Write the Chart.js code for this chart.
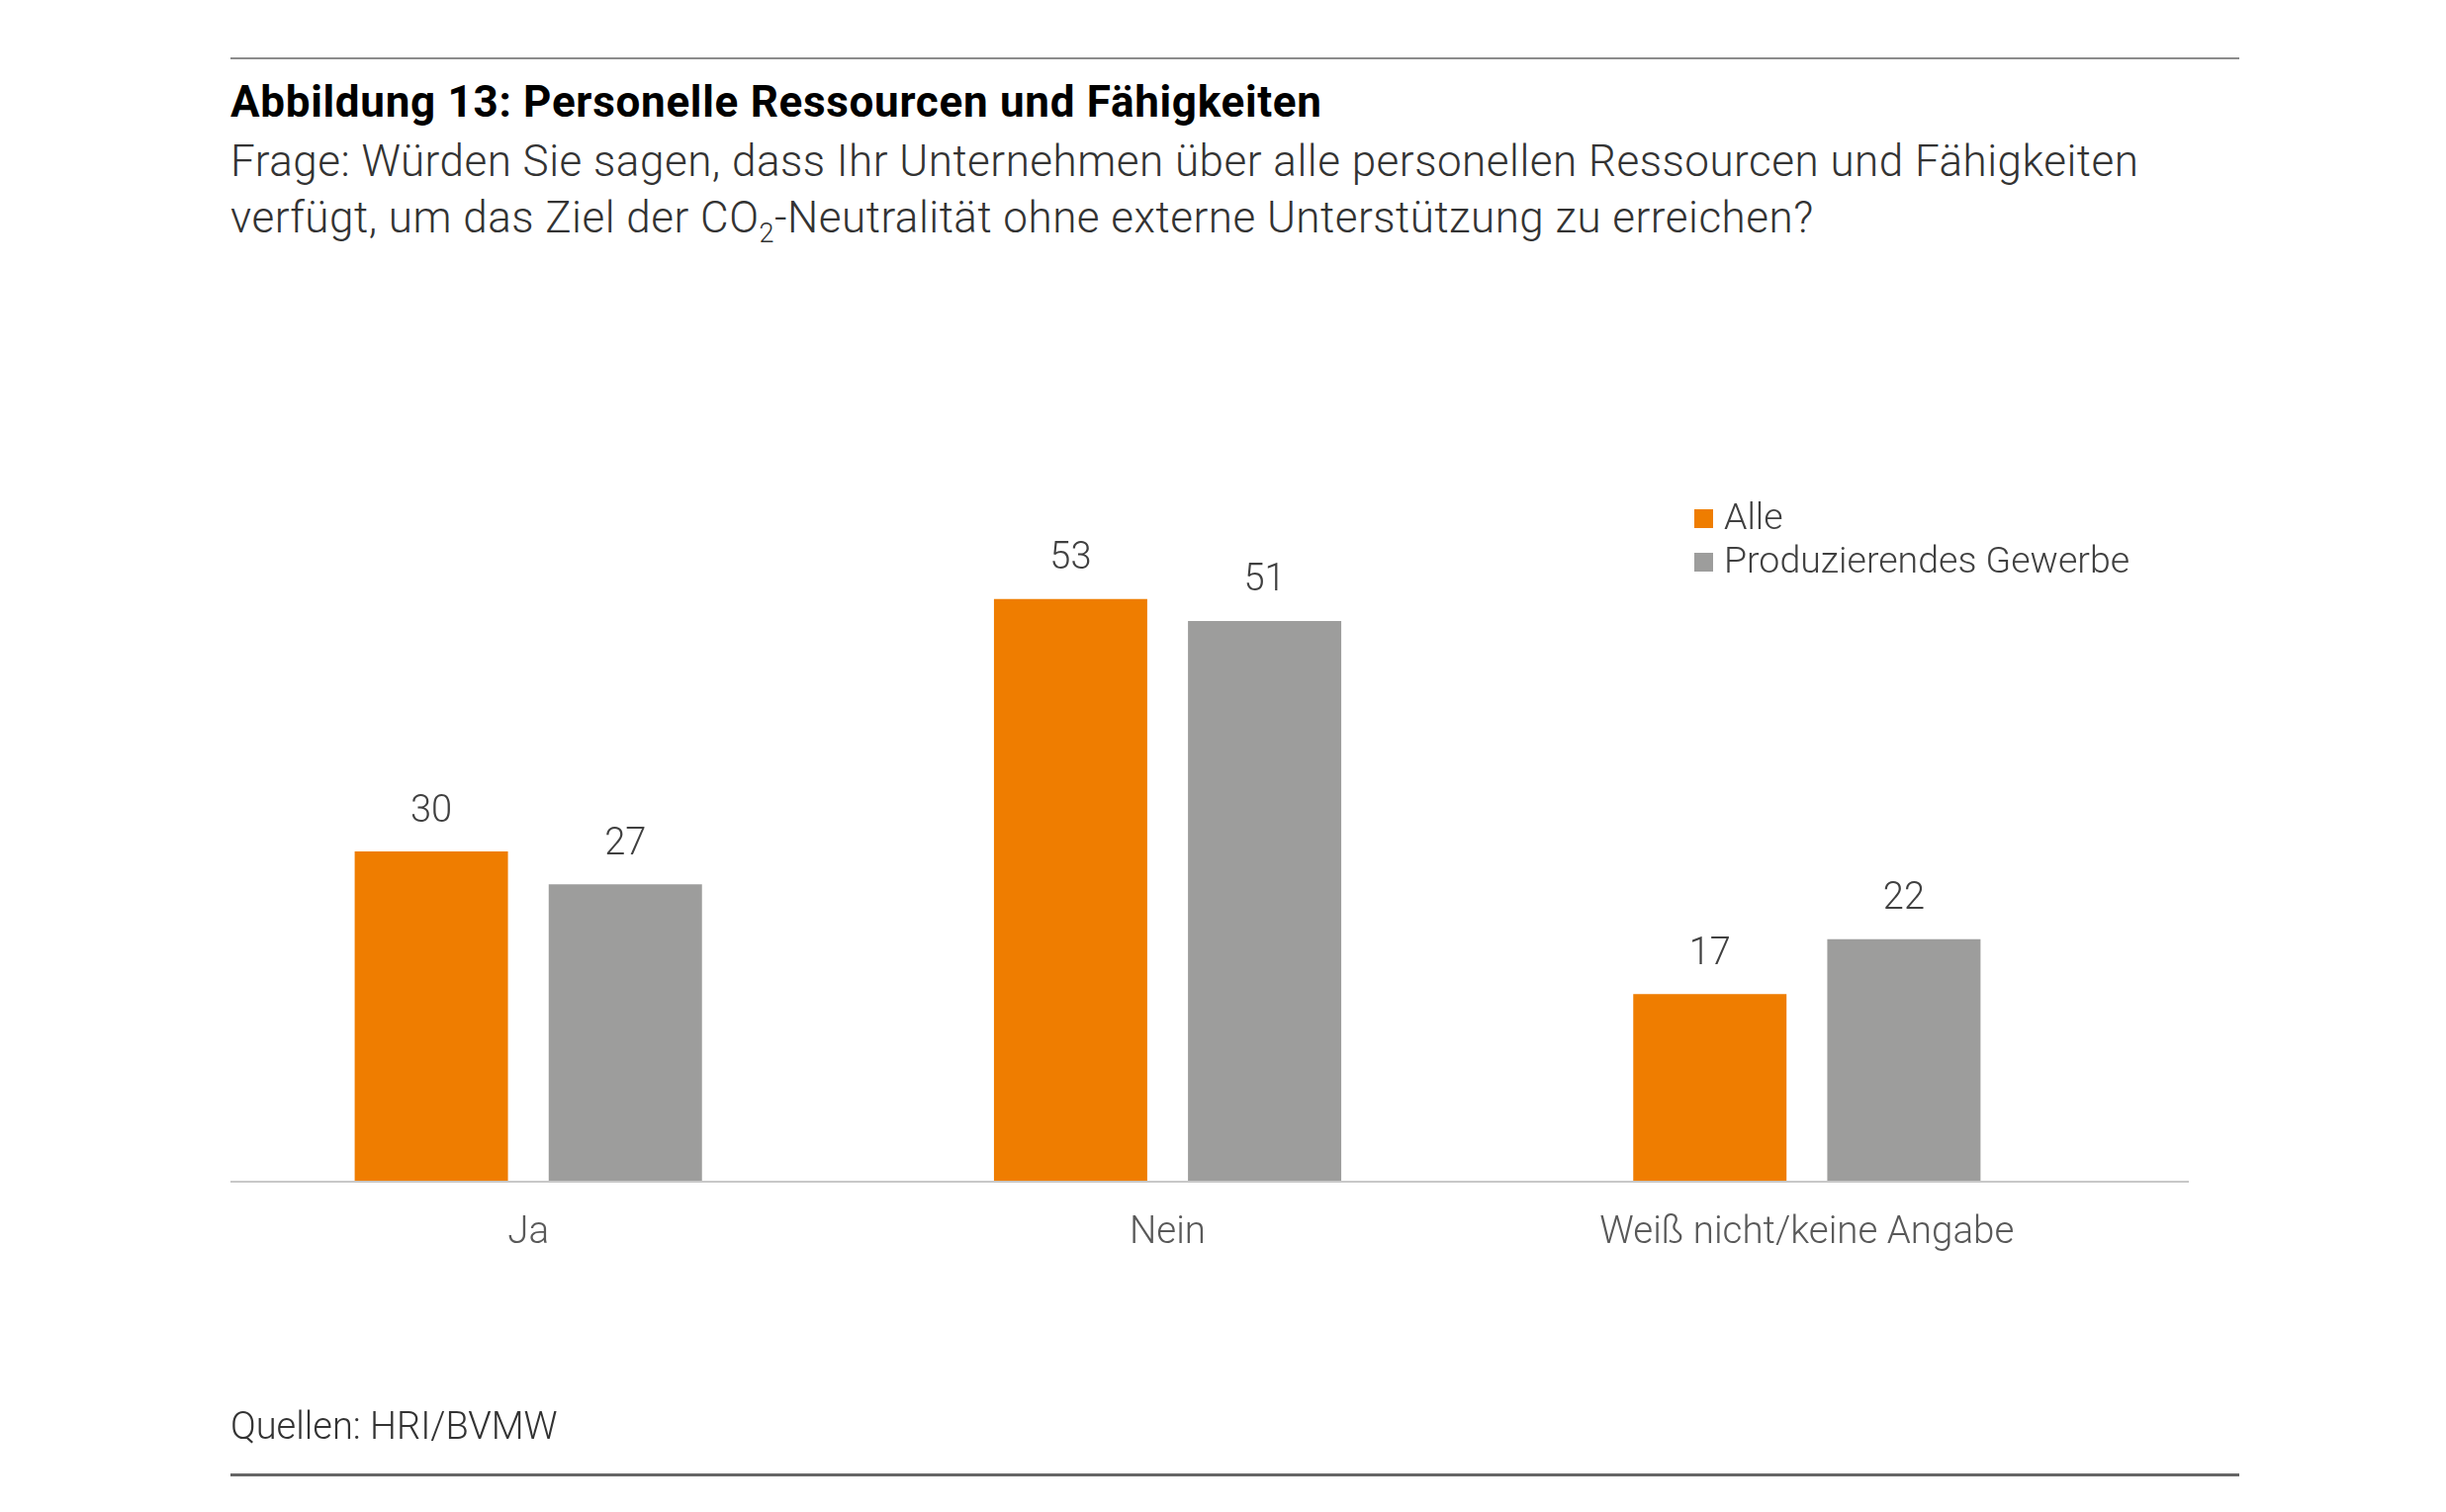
<!DOCTYPE html>
<html>
<head>
<meta charset="utf-8">
<script src="https://cdn.jsdelivr.net/npm/chart.js@4.4.1/dist/chart.umd.min.js"></script>
<style>
  html, body { margin: 0; padding: 0; background: #fff; }
  #page { position: relative; width: 2473px; height: 1529px; overflow: hidden; font-family: Roboto, "Open Sans", sans-serif; }
  .rule { position: absolute; left: 233px; width: 2031px; }
  .txt { position: absolute; white-space: nowrap; }
  #chartBox { position: absolute; left: 0; top: 0; width: 2473px; height: 1529px; }
  .legItem { position: absolute; left: 1713px; font-size: 37.5px; font-weight: 300; color: #404040; line-height: 38px; }
  .legItem span.sw { display: inline-block; width: 19px; height: 19px; margin-right: 11px; vertical-align: 1px; }
</style>
</head>
<body>
<div id="page">
  <div class="rule" style="top:58px;height:2px;background:#8c8c8c;"></div>
  <div class="txt" style="left:233px;top:79px;font-size:44px;line-height:48px;font-weight:700;color:#000;letter-spacing:0.7px;">Abbildung 13: Personelle Ressourcen und Fähigkeiten</div>
  <div class="txt" style="left:233px;top:135px;font-size:44px;line-height:57px;font-weight:300;color:#333;letter-spacing:0.5px;">Frage: Würden Sie sagen, dass Ihr Unternehmen über alle personellen Ressourcen und Fähigkeiten<br>verfügt, um das Ziel der CO<sub style="font-size:27px;">2</sub>-Neutralität ohne externe Unterstützung zu erreichen?</div>
  <div id="chartBox"><canvas id="myChart" width="2473" height="1529"></canvas></div>
  <div id="legend"></div>
  <div class="txt" style="left:233px;top:1423px;font-size:38px;line-height:38px;font-weight:300;color:#333;">Quellen: HRI/BVMW</div>
  <div class="rule" style="top:1490px;height:3px;background:#666;"></div>
</div>
<script>
// data
const categories = ["Ja", "Nein", "Weiß nicht/keine Angabe"];
const seriesNames = ["Alle", "Produzierendes Gewerbe"];
const alleValues = [30, 53, 17];
const gewerbeValues = [27, 51, 22];
const seriesColors = ["#ef7d00", "#9d9d9c"];

//html legend, built from the series names
const legendEl = document.getElementById("legend");
seriesNames.forEach((name, i) => {
  const item = document.createElement("div");
  item.className = "legItem";
  item.style.top = (503 + i * 44) + "px";
  item.innerHTML = '<span class="sw" style="background:' + seriesColors[i] + '"></span>' + name;
  legendEl.appendChild(item);
});

//draws the numbers above each bar
const valueLabels = {
  id: "valueLabels",
  afterDatasetsDraw(chart) {
    const ctx = chart.ctx;
    ctx.save();
    ctx.font = "300 38px Roboto";
    ctx.fillStyle = "#404040";
    ctx.textAlign = "center";
    ctx.textBaseline = "middle";
    chart.data.datasets.forEach((ds, di) => {
      chart.getDatasetMeta(di).data.forEach((bar, i) => {
        ctx.fillText(ds.data[i], bar.x, bar.y - 40);
      });
    });
    ctx.restore();
  }
};

//baseline under the bars, a bit wider than the category band
const baseLine = {
  id: "baseLine",
  afterDatasetsDraw(chart) {
    const ctx = chart.ctx;
    const y = chart.scales.y.getPixelForValue(0);
    ctx.save();
    ctx.strokeStyle = "#c8c8c8";
    ctx.lineWidth = 2;
    ctx.beginPath();
    ctx.moveTo(233, y + 1);
    ctx.lineTo(2213, y + 1);
    ctx.stroke();
    ctx.restore();
  }
};

const ctx = document.getElementById("myChart").getContext("2d");
new Chart(ctx, {
  type: "bar",
  data: {
    labels: categories,
    datasets: [
      { label: seriesNames[0], data: alleValues, backgroundColor: seriesColors[0] },
      { label: seriesNames[1], data: gewerbeValues, backgroundColor: seriesColors[1] }
    ]
  },
  options: {
    responsive: false,
    animation: false,
    devicePixelRatio: 1,
    layout: { padding: { left: 211, right: 323, top: 417, bottom: 235 } },
    datasets: { bar: { categoryPercentage: 0.607, barPercentage: 0.79 } },
    scales: {
      x: {
        grid: { display: false, drawTicks: false },
        border: { display: false },
        ticks: { color: "#595959", font: { family: "Roboto", size: 38.5, weight: 300 }, padding: 30 },
        afterFit: (scale) => { scale.height = 100; }
      },
      y: { display: false, min: 0, max: 70 }
    },
    plugins: { legend: { display: false }, tooltip: { enabled: false } }
  },
  plugins: [valueLabels, baseLine]
});
</script>
</body>
</html>
